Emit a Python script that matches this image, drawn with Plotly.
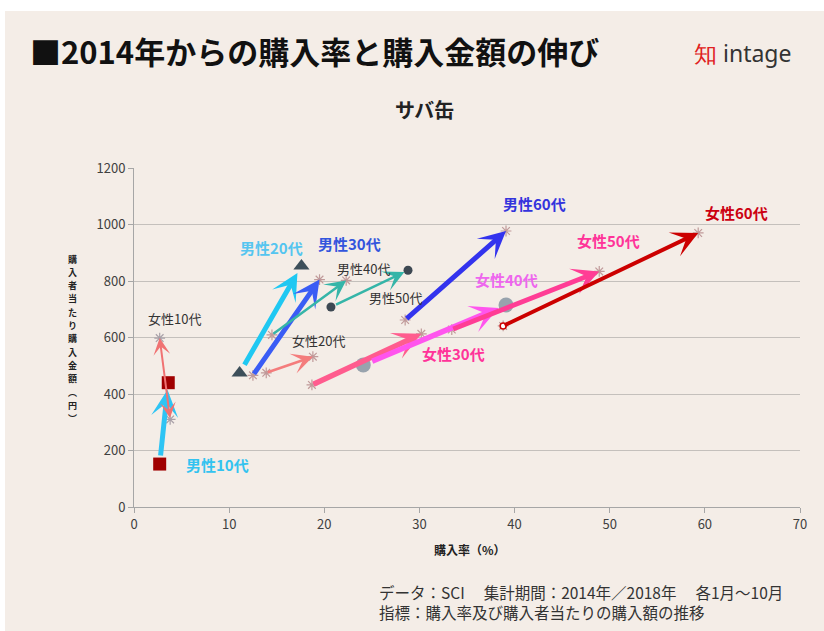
import plotly.graph_objects as go

# ---- data ----
names = ["男性10代", "男性20代", "男性30代", "男性40代", "男性50代", "男性60代",
         "女性10代", "女性20代", "女性30代", "女性40代", "女性50代", "女性60代"]
x2014 = [2.7, 11.1, 12.5, 14.5, 20.7, 28.5, 3.8, 13.9, 18.7, 24.1, 33.4, 38.8]
y2014 = [152, 474, 466, 609, 708, 662, 310, 475, 432, 503, 628, 641]
x2018 = [3.6, 17.6, 19.5, 22.3, 28.8, 39.1, 2.7, 18.8, 30.2, 39.1, 48.9, 59.3]
y2018 = [440, 853, 805, 802, 838, 977, 598, 532, 613, 715, 834, 970]

x_ticks = [0, 10, 20, 30, 40, 50, 60, 70]
y_ticks = [0, 200, 400, 600, 800, 1000, 1200]

# ---- styles ----
line_colors = ["#2EC4F4", "#1FC8F2", "#3A5CF5", "#35B5A8", "#35B5A8", "#3333EE",
               "#F07272", "#F47C7C", "#FF5C8E", "#FF55EE", "#FF3D95", "#CC0000"]
line_widths = [5, 5, 5, 2.5, 2.5, 5, 2, 2.5, 5.5, 5.5, 5, 4]
head_sizes = [0.9, 0.9, 0.9, 1.4, 1.4, 0.9, 1.4, 1.4, 0.85, 0.85, 0.9, 1.1]
markers = ["square", "triangle-up", "asterisk", "asterisk", "circle", "asterisk",
           "asterisk", "asterisk", "asterisk", "circle", "asterisk", "asterisk"]
marker_colors = ["#A00000", "#3D4F5A", "#C09A9A", "#C09A9A", "#3D4852", "#C09A9A",
                 "#A8A0A8", "#C09A9A", "#C09A9A", "#98A3AD", "#C09A9A", "#C09A9A"]
marker_sizes = [13, 14, 9, 9, 9, 9, 9, 9, 9, 15, 9, 9]
standoffs = [7, 8, 0, 0, 4, 0, 0, 0, 0, 8, 0, 0]
label_style = {
    "男性10代": dict(x=8.8, y=150, color="#33C3F0", bold=True, size=15),
    "男性20代": dict(x=14.5, y=917, color="#55C5F0", bold=True, size=15),
    "男性30代": dict(x=22.6, y=931, color="#3355DD", bold=True, size=15),
    "男性40代": dict(x=24.1, y=846, color="#333333", bold=False, size=13),
    "男性50代": dict(x=27.5, y=740, color="#333333", bold=False, size=13),
    "男性60代": dict(x=42.1, y=1076, color="#3333DD", bold=True, size=15),
    "女性10代": dict(x=4.3, y=669, color="#333333", bold=False, size=13),
    "女性20代": dict(x=19.4, y=588, color="#333333", bold=False, size=13),
    "女性30代": dict(x=33.6, y=545, color="#FF3399", bold=True, size=15),
    "女性40代": dict(x=39.1, y=804, color="#EE66EE", bold=True, size=15),
    "女性50代": dict(x=49.9, y=942, color="#FF3399", bold=True, size=15),
    "女性60代": dict(x=63.3, y=1044, color="#CC0011", bold=True, size=15),
}

FONT = "Noto Sans CJK JP"
BG = "#F4EDE7"

fig = go.Figure()

# endpoint markers
for i, n in enumerate(names):
    sym = markers[i]
    mk = dict(symbol=sym, size=marker_sizes[i], color=marker_colors[i])
    if sym == "asterisk":
        mk = dict(symbol="asterisk-open", size=marker_sizes[i], color=marker_colors[i],
                  line=dict(color=marker_colors[i], width=1.2))
    fig.add_trace(go.Scatter(x=[x2014[i], x2018[i]], y=[y2014[i], y2018[i]],
                             mode="markers", marker=mk, showlegend=False,
                             hoverinfo="skip"))

# open circle at start of 女性60代
k = names.index("女性60代")
fig.add_trace(go.Scatter(x=[x2014[k]], y=[y2014[k]], mode="markers",
                         marker=dict(symbol="circle", size=6, color="white",
                                     line=dict(color="#CC0000", width=1.5)),
                         showlegend=False, hoverinfo="skip"))

# arrows 2014 -> 2018
annotations = []
for i, n in enumerate(names):
    a = dict(x=x2018[i], y=y2018[i], ax=x2014[i], ay=y2014[i],
             xref="x", yref="y", axref="x", ayref="y", text="",
             showarrow=True, arrowhead=3, arrowsize=head_sizes[i],
             arrowwidth=line_widths[i], arrowcolor=line_colors[i],
             standoff=standoffs[i], startstandoff=standoffs[i])
    if n == "女性10代":
        a["arrowside"] = "end+start"
        a["startarrowhead"] = 3
        a["startarrowsize"] = 1.3
    annotations.append(a)

# series labels
for n in names:
    s = label_style[n]
    txt = f"<b>{n}</b>" if s["bold"] else n
    annotations.append(dict(x=s["x"], y=s["y"], xref="x", yref="y", text=txt,
                            showarrow=False, xanchor="center", yanchor="middle",
                            font=dict(family=FONT, size=s["size"], color=s["color"])))

# pixel -> paper helpers (plot area: x 134..800, y 168..507)
L, R, T, B = 134, 800, 168, 507
def px(xp):
    return (xp - L) / (R - L)
def py(yp):
    return (B - yp) / (B - T)

# vertical y-axis title (upright stacked characters)
ytitle = "購入者当たり購入金額︵円︶"
for j, ch in enumerate(ytitle):
    annotations.append(dict(x=px(72), y=py(259 + j * 13.3), xref="paper", yref="paper",
                            text=f"<b>{ch}</b>", showarrow=False,
                            font=dict(family=FONT, size=9, color="#222222"),
                            xanchor="center", yanchor="middle"))

# x-axis title
annotations.append(dict(x=px(470), y=py(549), xref="paper", yref="paper",
                        xanchor="center", yanchor="middle",
                        text="<b>購入率（%）</b>", showarrow=False,
                        font=dict(family=FONT, size=12, color="#222222")))

# main title
annotations.append(dict(x=px(28), y=py(51), xref="paper", yref="paper",
                        xanchor="left", yanchor="middle",
                        text="<b>■2014年からの購入率と購入金額の伸び</b>", showarrow=False,
                        font=dict(family=FONT, size=31, color="#111111")))
# subtitle
annotations.append(dict(x=px(424), y=py(109), xref="paper", yref="paper",
                        xanchor="center", yanchor="middle",
                        text="<b>サバ缶</b>", showarrow=False,
                        font=dict(family=FONT, size=20, color="#222222")))
# logo
annotations.append(dict(x=px(692), y=py(53), xref="paper", yref="paper",
                        xanchor="left", yanchor="middle",
                        text="<span style='color:#E02020'>知</span> intage", showarrow=False,
                        font=dict(family="Noto Sans", size=23, color="#333333")))
# footnote
annotations.append(dict(x=px(377), y=py(602), xref="paper", yref="paper",
                        xanchor="left", yanchor="middle", align="left",
                        text="データ：SCI　 集計期間：2014年／2018年　 各1月～10月<br>指標：購入率及び購入者当たりの購入額の推移",
                        showarrow=False,
                        font=dict(family=FONT, size=15.5, color="#333333")))

shapes = [
    dict(type="rect", xref="paper", yref="paper", x0=px(-10), x1=px(840),
         y0=py(11), y1=py(-10), fillcolor="white", line=dict(width=0), layer="below"),
    dict(type="rect", xref="paper", yref="paper", x0=px(-10), x1=px(5),
         y0=py(640), y1=py(-10), fillcolor="white", line=dict(width=0), layer="below"),
]

fig.update_layout(
    width=824, height=631,
    margin=dict(l=L, r=824 - R, t=T, b=631 - B),
    paper_bgcolor=BG, plot_bgcolor=BG,
    font=dict(family=FONT, size=13, color="#404040"),
    annotations=annotations, shapes=shapes, showlegend=False,
    xaxis=dict(range=[0, 70], tickvals=x_ticks, showgrid=False, zeroline=False,
               showline=True, linecolor="#A6A6A6", linewidth=1,
               ticks="outside", ticklen=5, tickcolor="#A6A6A6",
               tickfont=dict(family=FONT, size=13, color="#404040")),
    yaxis=dict(range=[0, 1200], tickvals=y_ticks, showgrid=True, gridcolor="#C4C0BC",
               gridwidth=1, zeroline=False, showline=True, linecolor="#A6A6A6",
               linewidth=1, ticks="outside", ticklen=5, tickcolor="#A6A6A6",
               tickfont=dict(family=FONT, size=13, color="#404040")),
)

fig.write_html("out.html")
